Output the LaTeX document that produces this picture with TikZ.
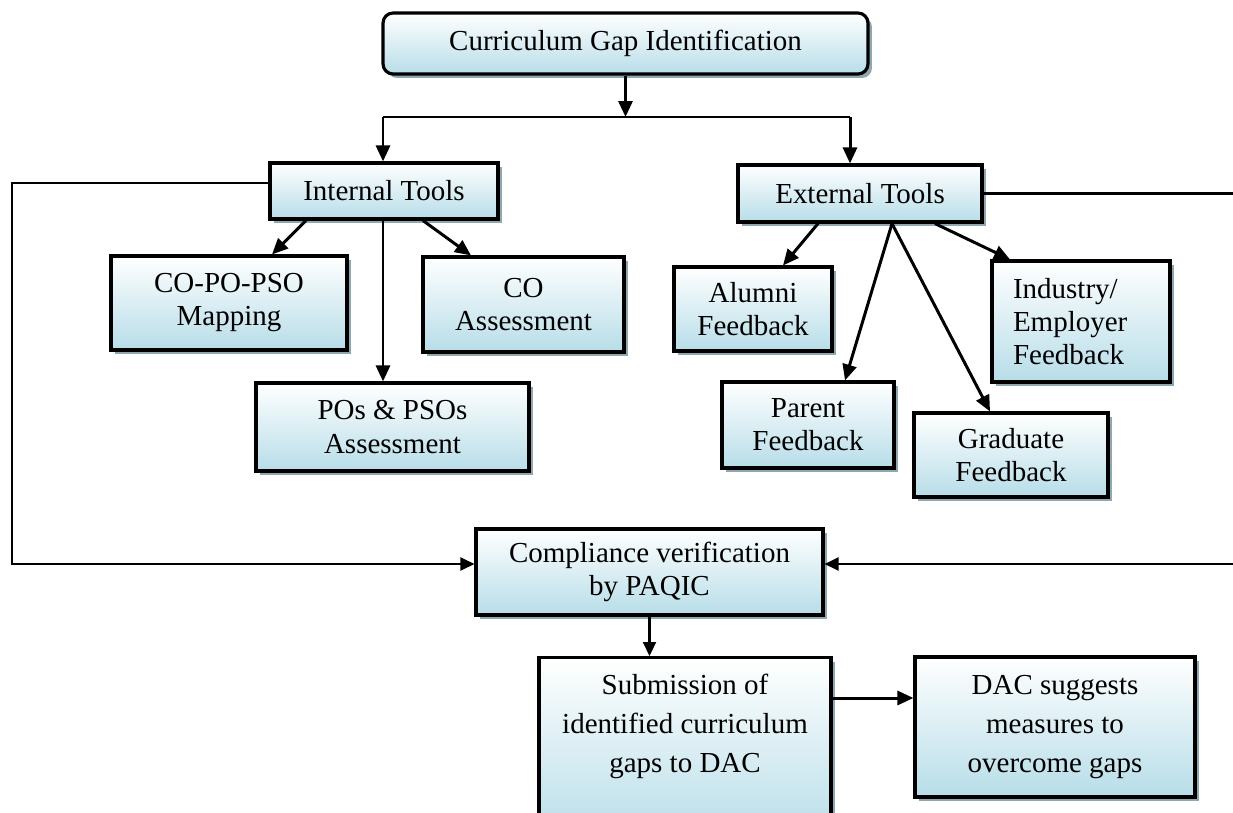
\documentclass[tikz,border=0pt]{standalone}
\usepackage{fontspec}
\setmainfont{Liberation Serif}
\usetikzlibrary{arrows.meta}
\usetikzlibrary{shadows}
\definecolor{boxblue}{RGB}{183,221,232}
\definecolor{shadowgray}{RGB}{143,167,176}
\tikzset{
  box/.style={draw,line width=1.8pt,top color=white,bottom color=boxblue,align=center,inner sep=2pt,
    font=\fontsize{16.5}{18.8}\selectfont,
    drop shadow={shadow xshift=0.08cm,shadow yshift=-0.08cm,fill=shadowgray,opacity=1}},
  widebox/.style={box,font=\fontsize{16.5}{22.2}\selectfont},
  arr/.style={-{Triangle[length=0.32cm,width=0.28cm]},line width=1.7pt},
  thinarr/.style={-{Triangle[length=0.28cm,width=0.26cm]},line width=1.2pt}
}

\begin{document}
\begin{tikzpicture}[x=0.02cm,y=-0.02cm]
            \useasboundingbox (0,0) rectangle (1233,812);
            \clip (0,0) rectangle (1233,812);
            % top and the two kinds of tools
            \node[box,rounded corners=0.2cm,minimum width=9.7cm,minimum height=1.22cm] (top) at (625.5,43.5) {Curriculum Gap Identification};
            \node[box,minimum width=4.56cm,minimum height=1.12cm] (intl) at (384,191) {Internal Tools};
            \node[box,minimum width=4.88cm,minimum height=1.14cm] (ext) at (860,193.5) {External Tools};
            \coordinate (ibr) at (383,117);
            \coordinate (ebr) at (850,117);
            \draw[arr](top)--(top|-ibr);
            \draw[line width=1.2pt](ibr)--(ebr);
            \draw[arr](ibr)--(ibr|-intl.north);
            \draw[arr](ebr)--(ebr|-ext.north);
            % internal tools
            \node[box,minimum width=4.72cm,minimum height=1.88cm] (copo) at (229,303) {CO-PO-PSO\\Mapping};
            \node[box,minimum width=4.02cm,minimum height=1.9cm] (coas) at (523.5,304.5) {CO\\Assessment};
            \node[box,minimum width=5.46cm,minimum height=1.76cm] (pos) at (392.5,427) {POs \& PSOs\\Assessment};
            \draw[arr](intl.south-|306,0)--(copo.north-|272,0);
            \draw[arr](intl.south-|423,0)--(coas.north-|471,0);
            \draw[arr](intl.south-|383,0)--(pos.north-|383,0);
            % external tools
            \node[box,minimum width=3.16cm,minimum height=1.68cm] (alum) at (753,309) {Alumni\\Feedback};
            \node[box,minimum width=3.44cm,minimum height=1.72cm] (parent) at (808,425) {Parent\\Feedback};
            \node[box,minimum width=3.88cm,minimum height=1.68cm] (grad) at (1011,455) {Graduate\\Feedback};
            \node[box,align=left,text width=2.72cm,minimum width=3.56cm,minimum height=2.42cm] (indus) at (1081,321.5) {Industry/\\Employer\\Feedback};
            \draw[arr](ext.south-|818,0)--(alum.north-|783,0);
            \draw[arr](ext.south-|892,0)--(parent.north-|845,0);
            \draw[arr](ext.south-|892,0)--(grad.north-|990,0);
            \draw[arr](ext.south-|935,0)--(indus.north-|1010,0);
            % verification and the last steps
            \node[box,minimum width=6.94cm,minimum height=1.72cm] (comp) at (649.5,572) {Compliance verification\\by PAQIC};
            \node[widebox,anchor=north,minimum width=5.84cm,minimum height=3.68cm] (subm) at (685,656) {};
            \node[font=\fontsize{16.5}{22.2}\selectfont,align=center] (submtxt) at (685,726) {Submission of\\identified curriculum\\gaps to DAC};
            \node[widebox,minimum width=5.6cm,minimum height=2.8cm] (dac) at (1055,727) {DAC suggests\\measures to\\overcome gaps};
            \coordinate (lft) at (12,564);
            \coordinate (rgt) at (1240,564);
            \draw[thinarr]([yshift=0.16cm]intl.west)-|(lft)--(comp.west|-lft);
            \draw[thinarr](ext.east)-|(rgt)--(comp.east|-rgt);
            \draw[thinarr](comp)--(comp|-subm.north);
            \draw[arr](subm.east|-0,698)--(dac.west|-0,698);
        \end{tikzpicture}
\end{document}
